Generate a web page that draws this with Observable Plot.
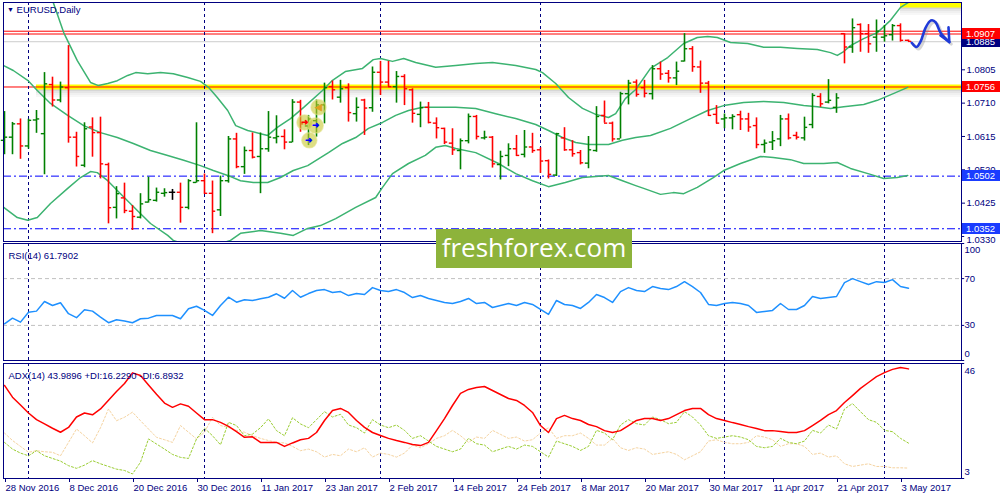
<!DOCTYPE html>
<html><head><meta charset="utf-8">
<script src="https://cdn.jsdelivr.net/npm/d3@7"></script>
<script src="https://cdn.jsdelivr.net/npm/@observablehq/plot@0.6"></script>
<style>
body{margin:0;background:#fff;}
#wrap{position:relative;width:1000px;height:500px;overflow:hidden;font-family:"Liberation Sans",Arial,sans-serif;}
#wrap > svg, #wrap > div.p{position:absolute;left:0;}
.plab{position:absolute;left:962px;width:38px;height:11px;color:#fff;font-size:9.5px;line-height:11px;padding-left:4px;box-sizing:border-box;}
.ttl{position:absolute;color:#000080;font-size:9.5px;white-space:nowrap;}
#banner{position:absolute;left:436px;top:229px;width:196px;height:39px;background:#8db33b;color:#fff;font-family:"Open Sans",sans-serif;font-size:26px;line-height:37px;text-align:center;}
</style></head><body><div id="wrap"></div><script>
// ---------- data ----------
const dateLabels = ["28 Nov 2016","8 Dec 2016","20 Dec 2016","30 Dec 2016","11 Jan 2017","23 Jan 2017","2 Feb 2017","14 Feb 2017","24 Feb 2017","8 Mar 2017","20 Mar 2017","30 Mar 2017","11 Apr 2017","21 Apr 2017","3 May 2017"];
const dateIdx = [0,8,16,24,32,40,48,56,64,72,80,88,96,104,112];
const monthStarts = [3,25,47,67,90,110];
const opens = [1.0604,1.0613,1.0651,1.0588,1.0662,1.0623,1.0763,1.0719,1.0754,1.0613,
1.0533,1.0642,1.0626,1.0535,1.0413,1.0440,1.0402,1.0385,1.0428,1.0433,
1.0453,1.0456,1.0456,1.0413,1.0484,1.0489,1.0453,1.0406,1.0489,1.0608,
1.0529,1.0575,1.0558,1.0580,1.0611,1.0615,1.0599,1.0713,1.0645,1.0660,
1.0705,1.0757,1.0727,1.0754,1.0680,1.0719,1.0697,1.0798,1.0770,1.0757,
1.0786,1.0748,1.0678,1.0698,1.0653,1.0638,1.0596,1.0575,1.0603,1.0672,
1.0611,1.0613,1.0535,1.0561,1.0580,1.0564,1.0585,1.0577,1.0546,1.0505,
1.0611,1.0577,1.0569,1.0539,1.0575,1.0675,1.0653,1.0608,1.0737,1.0770,
1.0754,1.0737,1.0808,1.0795,1.0782,1.0830,1.0865,1.0813,1.0767,1.0678,
1.0665,1.0668,1.0677,1.0665,1.0646,1.0592,1.0599,1.0608,1.0665,1.0618,
1.0611,1.0649,1.0729,1.0713,1.0698,1.0908,1.0870,1.0934,1.0908,1.0898,
1.0898,1.0905,1.0931,1.0889];
const highs = [1.0686,1.0655,1.0665,1.0664,1.0689,1.0797,1.0784,1.0770,1.0874,1.0627,
1.0654,1.0668,1.0670,1.0539,1.0472,1.0482,1.0418,1.0452,1.0499,1.0468,
1.0466,1.0464,1.0482,1.0492,1.0654,1.0508,1.0488,1.0502,1.0615,1.0624,
1.0585,1.0625,1.0625,1.0686,1.0674,1.0634,1.0720,1.0718,1.0675,1.0719,
1.0767,1.0773,1.0775,1.0765,1.0725,1.0721,1.0813,1.0829,1.0829,1.0800,
1.0791,1.0751,1.0713,1.0712,1.0668,1.0639,1.0637,1.0608,1.0679,1.0675,
1.0630,1.0615,1.0573,1.0594,1.0618,1.0632,1.0624,1.0583,1.0548,1.0624,
1.0640,1.0603,1.0575,1.0615,1.0700,1.0716,1.0656,1.0741,1.0775,1.0776,
1.0775,1.0817,1.0827,1.0803,1.0827,1.0908,1.0871,1.0830,1.0772,1.0703,
1.0679,1.0677,1.0687,1.0681,1.0668,1.0605,1.0629,1.0675,1.0679,1.0627,
1.0670,1.0737,1.0737,1.0777,1.0737,1.0908,1.0950,1.0936,1.0934,1.0947,
1.0931,1.0934,1.0936,1.0890];
const lows = [1.0563,1.0563,1.0550,1.0579,1.0624,1.0506,1.0699,1.0711,1.0596,1.0528,
1.0526,1.0556,1.0494,1.0366,1.0380,1.0395,1.0347,1.0380,1.0425,1.0428,
1.0442,1.0433,1.0368,1.0406,1.0482,1.0450,1.0338,1.0387,1.0482,1.0523,
1.0507,1.0551,1.0452,1.0570,1.0594,1.0577,1.0597,1.0627,1.0589,1.0613,
1.0651,1.0719,1.0710,1.0656,1.0656,1.0618,1.0684,1.0732,1.0757,1.0710,
1.0703,1.0653,1.0640,1.0651,1.0608,1.0592,1.0561,1.0520,1.0594,1.0605,
1.0605,1.0525,1.0491,1.0529,1.0558,1.0554,1.0567,1.0510,1.0494,1.0501,
1.0573,1.0556,1.0534,1.0523,1.0570,1.0653,1.0599,1.0608,1.0705,1.0727,
1.0725,1.0719,1.0775,1.0767,1.0760,1.0827,1.0798,1.0738,1.0672,1.0651,
1.0637,1.0634,1.0632,1.0627,1.0580,1.0567,1.0575,1.0586,1.0605,1.0605,
1.0602,1.0637,1.0698,1.0708,1.0681,1.0822,1.0852,1.0855,1.0852,1.0855,
1.0884,1.0887,1.0884,1.0884];
const closes = [1.0613,1.0651,1.0588,1.0661,1.0665,1.0765,1.0719,1.0756,1.0613,1.0558,
1.0637,1.0626,1.0537,1.0412,1.0452,1.0404,1.0387,1.0423,1.0435,1.0456,
1.0455,1.0456,1.0413,1.0489,1.0489,1.0453,1.0402,1.0489,1.0608,1.0529,
1.0575,1.0556,1.0580,1.0613,1.0615,1.0599,1.0713,1.0651,1.0665,1.0705,
1.0754,1.0748,1.0751,1.0683,1.0698,1.0696,1.0798,1.0770,1.0757,1.0786,
1.0751,1.0681,1.0697,1.0655,1.0640,1.0599,1.0577,1.0603,1.0672,1.0615,
1.0613,1.0537,1.0558,1.0580,1.0561,1.0585,1.0575,1.0545,1.0507,1.0623,
1.0577,1.0566,1.0540,1.0577,1.0672,1.0653,1.0608,1.0737,1.0767,1.0735,
1.0738,1.0808,1.0793,1.0782,1.0801,1.0865,1.0814,1.0767,1.0675,1.0653,
1.0668,1.0672,1.0665,1.0642,1.0592,1.0596,1.0603,1.0665,1.0611,1.0613,
1.0641,1.0732,1.0708,1.0718,1.0725,1.0870,1.0925,1.0908,1.0879,1.0915,
1.0902,1.0931,1.0889,1.0886];
// Bollinger bands: [bar index, price]
const bbUpper = [[4,1.1100],[6.0,1.1003],[7.4,1.0911],[9.1,1.0831],[10.75,1.0769],[11.75,1.0760],[12.9,1.0766],[14.1,1.0774],[15.4,1.0789],[16.4,1.0797],[17.9,1.0794],[19.5,1.0797],[21.1,1.0794],[22.9,1.0783],[24.5,1.0772],[25.5,1.0755],[26.6,1.0726],[27.9,1.0689],[28.9,1.0646],[30.4,1.0632],[32.0,1.0623],[32.9,1.0618],[34.1,1.0641],[35.75,1.0666],[37.4,1.0698],[39.75,1.0746],[41.0,1.0775],[42.6,1.0800],[44.75,1.0809],[46.1,1.0834],[47.0,1.0837],[48.5,1.0829],[49.9,1.0837],[51.4,1.0826],[53.9,1.0812],[56.4,1.0817],[58.9,1.0823],[61.0,1.0826],[63.9,1.0817],[66.4,1.0806],[67.25,1.0797],[68.9,1.0766],[70.5,1.0726],[72.25,1.0695],[73.9,1.0678],[75.5,1.0669],[76.4,1.0680],[77.6,1.0723],[78.9,1.0749],[80.75,1.0809],[82.9,1.0840],[84.9,1.0880],[86.6,1.0897],[87.9,1.0900],[89.1,1.0897],[90.75,1.0883],[92.9,1.0880],[94.9,1.0869],[97.0,1.0869],[99.1,1.0866],[101.6,1.0863],[103.25,1.0854],[104.1,1.0846],[104.9,1.0857],[105.75,1.0874],[107.4,1.0894],[109.1,1.0911],[110.75,1.0946],[112.0,1.0983],[113.0,1.0997]];
const bbMiddle = [[-0.1,1.0817],[1.1,1.0803],[2.9,1.0775],[4.1,1.0746],[5.75,1.0709],[7.9,1.0675],[9.9,1.0646],[12.0,1.0626],[14.1,1.0612],[16.1,1.0595],[18.25,1.0575],[20.4,1.0561],[22.4,1.0547],[24.5,1.0532],[26.1,1.0518],[27.9,1.0504],[29.5,1.0489],[31.1,1.0484],[32.9,1.0484],[34.5,1.0498],[36.1,1.0518],[37.9,1.0532],[39.5,1.0555],[40.5,1.0569],[42.25,1.0595],[43.9,1.0612],[45.5,1.0638],[47.25,1.0655],[48.9,1.0675],[50.5,1.0689],[52.25,1.0698],[56.4,1.0698],[58.9,1.0695],[61.4,1.0680],[63.9,1.0666],[66.4,1.0649],[68.0,1.0632],[69.75,1.0612],[71.4,1.0598],[73.0,1.0592],[75.5,1.0592],[77.25,1.0604],[78.9,1.0612],[80.75,1.0618],[83.25,1.0638],[85.75,1.0666],[87.9,1.0689],[89.9,1.0703],[92.4,1.0712],[94.9,1.0715],[97.4,1.0712],[99.9,1.0703],[101.6,1.0700],[103.25,1.0695],[104.9,1.0700],[107.4,1.0706],[109.1,1.0718],[111.1,1.0737],[112.9,1.0755]];
const bbLower = [[-0.1,1.0413],[1.6,1.0384],[2.9,1.0376],[4.1,1.0384],[5.75,1.0424],[7.9,1.0467],[9.5,1.0498],[10.75,1.0515],[11.6,1.0512],[12.9,1.0489],[14.5,1.0452],[16.6,1.0404],[18.25,1.0367],[20.4,1.0333],[21.1,1.0319],[24.5,1.0290],[28.25,1.0319],[29.5,1.0339],[32.0,1.0347],[34.5,1.0339],[36.1,1.0333],[37.9,1.0353],[39.5,1.0361],[41.4,1.0381],[43.9,1.0413],[46.4,1.0441],[47.25,1.0470],[48.5,1.0509],[50.5,1.0538],[52.6,1.0561],[53.9,1.0584],[55.1,1.0589],[56.4,1.0581],[58.9,1.0569],[61.75,1.0538],[63.9,1.0509],[66.0,1.0489],[68.0,1.0472],[70.1,1.0484],[72.25,1.0498],[75.5,1.0504],[77.25,1.0489],[78.9,1.0475],[79.9,1.0467],[82.0,1.0450],[83.6,1.0455],[84.9,1.0452],[86.6,1.0470],[88.6,1.0498],[89.9,1.0518],[92.0,1.0538],[94.5,1.0558],[96.1,1.0555],[98.25,1.0549],[99.9,1.0538],[102.4,1.0538],[104.1,1.0541],[105.75,1.0524],[108.25,1.0507],[109.9,1.0495],[111.6,1.0498],[112.9,1.0504]];
const priceTicks = [1.0805,1.0710,1.0615,1.0520,1.0425];
const bottomTick = 1.0330;
const resistLevels = [1.0915,1.0907];
const bidLevel = 1.0885;
const keyLevel = 1.0756;
const topLevel = 1.0990;
const supportLevels = [1.0502,1.0352];
const forecastPath = [[113.4,1.0882],[114.0,1.0870],[114.5,1.0885],[115.1,1.0923],[115.65,1.0943],[115.95,1.0946],[116.4,1.0940],[117.0,1.0911],[117.6,1.0895],[118.1,1.0884]];
const arrowHead1 = [[118.0,1.0926],[118.1,1.0884],[117.0,1.0903]];
const tradeMarks = [[39.25,1.0698],[37.5,1.0655],[38.9,1.0646],[38.1,1.0604]];
const rsi = [31.4,36.2,32.8,41.3,42.2,50.4,47.0,49.3,40.0,36.6,
43.4,42.2,37.1,32.3,34.8,33.7,32.3,35.7,36.2,38.5,
38.5,38.5,35.7,44.2,46.4,42.8,38.5,47.0,54.1,49.8,
51.9,51.3,52.7,54.1,57.0,53.2,59.8,54.1,57.2,59.8,
60.6,58.1,58.9,55.5,57.2,56.4,62.3,59.8,58.9,60.6,
58.1,53.8,55.5,53.0,51.3,49.6,48.7,50.4,53.0,48.7,
49.6,45.3,47.0,48.7,47.0,49.6,47.9,43.6,39.4,51.3,
47.9,47.0,44.5,49.6,56.4,53.8,49.6,58.9,62.3,59.8,
58.9,63.2,61.5,60.6,63.2,67.4,63.2,58.1,47.9,47.0,
48.7,49.6,48.7,47.0,41.1,41.9,42.8,48.7,43.6,43.6,
47.0,54.7,53.0,53.8,54.7,66.6,70.0,67.4,64.9,67.4,
66.6,69.1,63.2,61.79];
const adx = [37.8,33.4,30.5,27.5,25.0,23.4,21.8,20.3,22.1,26.0,
27.5,26.8,29.0,32.3,35.5,38.5,42.5,41.5,38.0,34.5,
31.2,29.6,30.9,30.0,27.5,25.0,25.0,24.0,22.5,20.5,
18.4,18.6,16.5,16.5,16.5,15.0,16.3,17.5,18.0,20.2,
24.7,28.4,29.2,27.7,24.7,22.1,20.2,19.1,18.0,17.2,
16.5,15.7,15.3,16.5,20.9,25.4,30.3,34.8,36.3,37.0,
37.4,35.9,34.4,32.9,32.2,30.3,27.7,22.8,20.2,25.4,
26.6,25.4,24.7,23.2,22.4,20.9,20.2,20.9,22.8,24.7,
25.4,25.4,24.7,25.4,26.9,28.4,29.2,29.2,26.9,25.4,
24.7,23.9,23.2,22.4,21.7,20.9,20.9,20.6,20.2,20.2,
20.9,22.8,24.7,26.9,28.4,31.4,34.0,36.7,38.9,41.1,
42.6,43.8,44.5,43.99];
const plusDI = [16.5,14.0,12.5,11.5,13.4,11.5,10.5,9.5,7.8,6.8,
8.0,9.7,8.5,7.5,6.5,6.0,4.7,9.1,17.8,15.9,
14.0,12.0,10.9,10.5,17.8,21.8,19.0,15.6,24.0,22.8,
19.0,19.6,22.0,25.3,20.9,19.0,25.7,23.4,22,25,
28,26,27,23,22,20,25,23,22,23,
21,18,19,17,15,14,13,14,18,16,
15.5,13,14,15,14,15.5,15,13,11,17,
16,15,13.5,15,21,20,17.5,23,25,23.5,
23,26,25,23.5,24,28,26,23,19,18,
18.5,19,18.5,17.5,15,14.5,15,18,16.5,16,
17,21,20,23,21.5,29,31,28,25,24,
21,20.5,18,16.23];
const minusDI = [20.0,17.2,15,12.8,13.4,13,12.8,11.5,16.5,21.5,
19.0,16.3,22,29.0,24.6,25.9,27.8,24.6,21.5,18.4,
17.5,16.5,22.8,20.3,17.8,20.3,25.9,22.8,22.1,21,
20.3,19.0,18,17.2,16.5,16.3,15.0,13.4,14,13,
11,12,11.5,14,13,14.5,11,12.5,12,11,
12.5,15.5,14.5,16,18,19,21,19,16.5,18.5,
18,21,19.5,18,18.5,17,17.5,20,22,18,
19,19,20,18,15.5,15.5,18,14.5,13.5,14.5,
14,12,12.5,13,12,10,11.5,13,17,17.5,
16.5,16,16,16.5,19,18.5,17.5,15,16,16,
15,12,12.5,11,11.5,8.5,7.5,8,8.5,7.5,
7.5,7,7,6.89];

// ---------- drawing ----------
const NAVY = "#000080";
const FONT = "Liberation Sans, Arial, sans-serif";
const wrap = document.getElementById("wrap");
const xDom = [-0.125, 119.625];
const baseStyle = {background:"transparent", overflow:"visible", fontFamily: FONT, fontSize:"9.5px", color: NAVY};
const bars = opens.map((o,i)=>({i, o, h:highs[i], l:lows[i], c:closes[i]}));
const barColor = d => d.c > d.o ? "#008000" : d.c < d.o ? "#ff0000" : "#000000";
const pts = arr => arr.map(([i,v])=>({i,v}));
const series = arr => arr.map((v,i)=>({i,v}));

function place(svg, top){ svg.style.top = top+"px"; wrap.appendChild(svg); return svg; }

const shadow = (lvl, x1, x2) => [3,5,7,9].map((k,j)=>Plot.ruleY([lvl], {x1, x2, stroke:"#000", strokeOpacity:[0.16,0.1,0.06,0.03][j], strokeWidth:2, dy:k}));

const main = Plot.plot({
  width:1000, height:242, marginTop:2, marginBottom:1, marginLeft:3, marginRight:39,
  x:{domain:xDom, axis:null},
  y:{domain:[1.03157,1.09968], axis:null},
  style: baseStyle,
  marks:[
    ...shadow(keyLevel, 4, xDom[1]),
    ...shadow(topLevel, 112, xDom[1]),
    Plot.ruleY([keyLevel], {x1:4, x2:xDom[1], stroke:"#ffff00", strokeWidth:5}),
    Plot.ruleY([topLevel], {x1:112, x2:xDom[1], stroke:"#ffff00", strokeWidth:5, clip:true}),
    Plot.ruleY([bidLevel], {stroke:"#cccccc"}),
    Plot.ruleY(resistLevels, {stroke:"#ff0000"}),
    Plot.ruleY([keyLevel], {stroke:"#ff0000"}),
    Plot.ruleY(supportLevels, {stroke:"#0000ff", strokeDasharray:"8,3,2,3"}),
    Plot.ruleX(monthStarts, {stroke:NAVY, strokeDasharray:"3,3"}),
    Plot.line(pts(bbUpper), {x:"i", y:"v", stroke:"#3cb371", clip:true}),
    Plot.line(pts(bbMiddle), {x:"i", y:"v", stroke:"#3cb371", clip:true}),
    Plot.line(pts(bbLower), {x:"i", y:"v", stroke:"#3cb371", clip:true}),
    Plot.ruleX(bars, {x:"i", y1:"l", y2:"h", stroke:barColor, strokeWidth:1.6}),
    Plot.ruleY(bars, {y:"o", x1:d=>d.i-0.4, x2:"i", stroke:barColor, strokeWidth:1.4}),
    Plot.ruleY(bars, {y:"c", x1:"i", x2:d=>d.i+0.4, stroke:barColor, strokeWidth:1.4}),
    Plot.dot(pts(tradeMarks), {x:"i", y:"v", r:7.5, fill:"#c8c832", fillOpacity:0.6, stroke:"#e0e080", strokeOpacity:0.6}),
    Plot.text(pts(tradeMarks), {x:"i", y:"v", text:(d,j)=>["◀","➜","➜","➜"][j], fill:(d,j)=>["#e0a020","#ff0000","#0000ff","#0000ff"][j], fontSize:9, fontWeight:"bold"}),
    Plot.line(pts(forecastPath), {x:"i", y:"v", stroke:"#888", strokeOpacity:0.35, strokeWidth:3, curve:"catmull-rom", dx:2, dy:2}),
    Plot.line(pts(forecastPath), {x:"i", y:"v", stroke:"#1f3ad8", strokeWidth:2.6, curve:"catmull-rom"}),
    Plot.line(pts(arrowHead1), {x:"i", y:"v", stroke:"#1f3ad8", strokeWidth:2.6}),
    Plot.frame({stroke:NAVY}),
    Plot.axisY({anchor:"right", ticks:priceTicks, tickFormat:d=>d.toFixed(4), tickSize:3, tickPadding:2, fill:NAVY, stroke:NAVY, label:null}),
    Plot.ruleY([bottomTick], {x1:xDom[1], x2:xDom[1]+0.4, stroke:NAVY}),
    Plot.text([bottomTick], {x:xDom[1], y:d=>d, text:d=>d.toFixed(4), dx:5, dy:3, textAnchor:"start", fill:NAVY})
  ]
});
place(main, 0);

const yMain = main.scale("y");
function priceLabel(price, text, bg){
  const d = document.createElement("div");
  d.className = "plab"; d.textContent = text; d.style.background = bg;
  d.style.top = (yMain.apply(price) - 5.5) + "px";
  wrap.appendChild(d);
}
priceLabel(bidLevel, bidLevel.toFixed(4), "#000080");
priceLabel(1.0907, "1.0907", "#ff0000");
priceLabel(keyLevel, keyLevel.toFixed(4), "#ff0000");
supportLevels.forEach(v => priceLabel(v, v.toFixed(4), "#1a3cff"));

const rsiPlot = Plot.plot({
  width:1000, height:120, marginTop:1, marginBottom:2, marginLeft:3, marginRight:39,
  x:{domain:xDom, axis:null},
  y:{domain:[0,100], axis:null},
  style: baseStyle,
  marks:[
    Plot.ruleY([70,30], {stroke:"#c0c0c0", strokeDasharray:"4,3"}),
    Plot.ruleX(monthStarts, {stroke:NAVY, strokeDasharray:"3,3"}),
    Plot.line(series(rsi), {x:"i", y:"v", stroke:"#1e90ff"}),
    Plot.frame({stroke:NAVY}),
    Plot.ruleY([100,70,30,0], {x1:xDom[1], x2:xDom[1]+0.4, stroke:NAVY}),
    Plot.text([70,30], {x:xDom[1], y:d=>d, text:d=>String(d), dx:3, textAnchor:"start", fill:NAVY}),
    Plot.text([100], {x:xDom[1], y:d=>d, text:d=>String(d), dx:3, dy:6, textAnchor:"start", fill:NAVY}),
    Plot.text([0], {x:xDom[1], y:d=>d, text:d=>String(d), dx:3, dy:-7, textAnchor:"start", fill:NAVY}),
    Plot.text(["RSI(14) 61.7902"], {frameAnchor:"top-left", dx:5, dy:9, fill:NAVY})
  ]
});
place(rsiPlot, 242);

const adxPlot = Plot.plot({
  width:1000, height:138, marginTop:1, marginBottom:22, marginLeft:3, marginRight:39,
  x:{domain:xDom, axis:null},
  y:{domain:[3,46], axis:null},
  style: baseStyle,
  marks:[
    Plot.ruleX(monthStarts, {stroke:NAVY, strokeDasharray:"3,3"}),
    Plot.line(series(minusDI), {x:"i", y:"v", stroke:"#f5d3a0", strokeWidth:1, strokeDasharray:"2,2"}),
    Plot.line(series(plusDI), {x:"i", y:"v", stroke:"#9acd32", strokeWidth:1, strokeDasharray:"2,2"}),
    Plot.line(series(adx), {x:"i", y:"v", stroke:"#ff0000"}),
    Plot.frame({stroke:NAVY}),
    Plot.ruleY([46,3], {x1:xDom[1], x2:xDom[1]+0.4, stroke:NAVY}),
    Plot.text([46], {x:xDom[1], y:d=>d, text:d=>String(d), dx:3, dy:7, textAnchor:"start", fill:NAVY}),
    Plot.text([3], {x:xDom[1], y:d=>d, text:d=>String(d), dx:3, dy:-7, textAnchor:"start", fill:NAVY}),
    Plot.text(["ADX(14) 43.9896 +DI:16.2290 -DI:6.8932"], {frameAnchor:"top-left", dx:5, dy:9, fill:NAVY}),
    Plot.axisX({anchor:"bottom", ticks:dateIdx, tickFormat:d=>dateLabels[dateIdx.indexOf(d)], tickSize:4, tickPadding:2, textAnchor:"start", dx:1, fill:NAVY, stroke:NAVY, label:null})
  ]
});
place(adxPlot, 362);

// title
const t = document.createElement("div");
t.className = "ttl"; t.style.left = "7px"; t.style.top = "4px";
t.innerHTML = '<span style="font-size:7px;vertical-align:1px">▼</span> EURUSD,Daily';
wrap.appendChild(t);
// banner
const b = document.createElement("div");
b.id = "banner"; b.textContent = "freshforex.com";
wrap.appendChild(b);
</script></body></html>
